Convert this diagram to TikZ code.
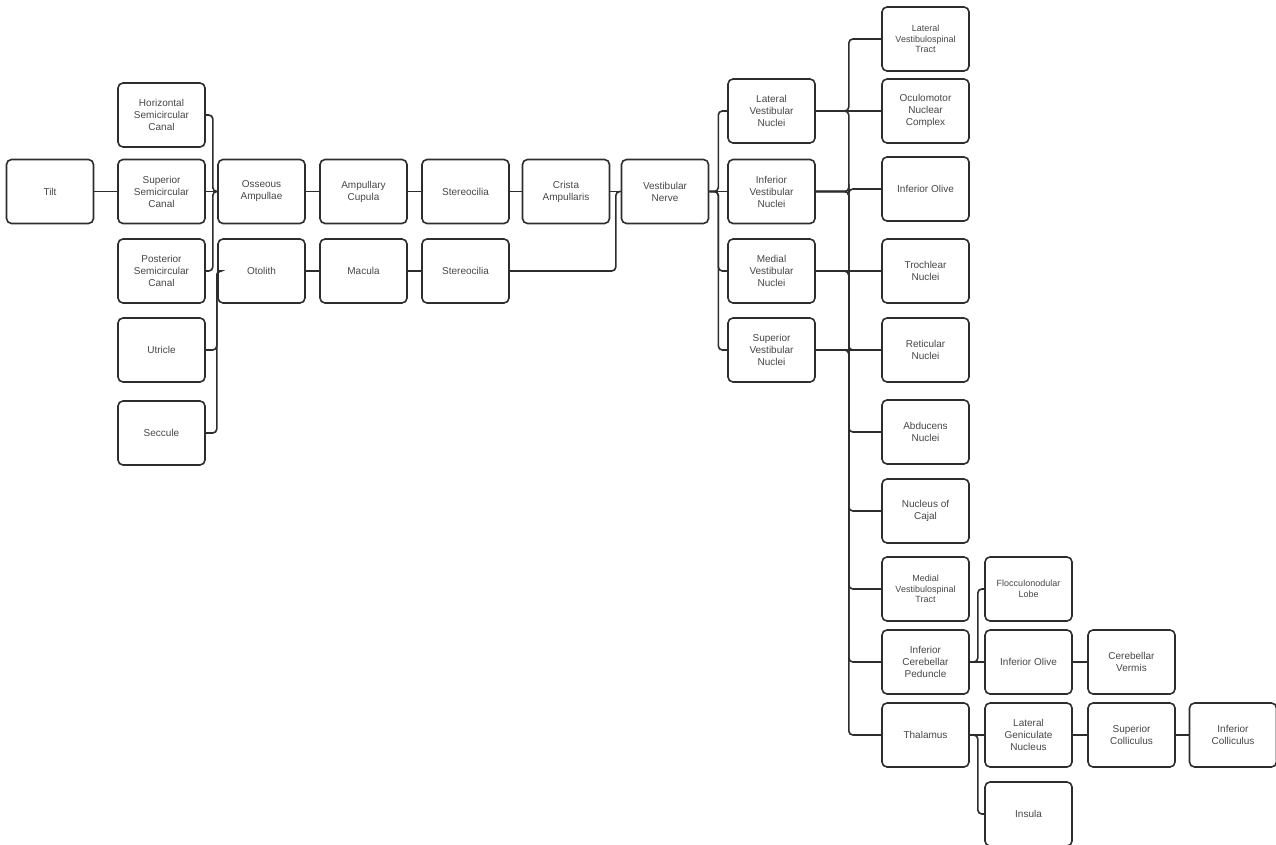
\documentclass[tikz,border=0pt]{standalone}
\usepackage{fontspec}
\setmainfont{Liberation Sans}
\usetikzlibrary{positioning}
\definecolor{boxline}{RGB}{45,45,45}
\definecolor{boxtext}{RGB}{70,70,70}

\begin{document}
\begin{tikzpicture}[
  x=1pt, y=-1pt,
  part/.style={rectangle, rounded corners=5pt, draw=boxline, line width=1.6pt,
               minimum width=87pt, minimum height=64pt, inner sep=1pt,
               font=\fontsize{10}{12}\selectfont, text=boxtext, align=center},
  small/.style={part, font=\fontsize{9}{10.5}\selectfont},
  link/.style={draw=boxline, line width=1.6pt, rounded corners=4pt}
]
  \useasboundingbox (0,0) rectangle (1276,845);
  \node[part] (tilt) at (50, 191.5) {Tilt};
  \node[part] (hsc) at (161.5, 115) {Horizontal\\Semicircular\\Canal};
  \node[part] (ssc) at (161.5, 191.5) {Superior\\Semicircular\\Canal};
  \node[part] (psc) at (161.5, 271) {Posterior\\Semicircular\\Canal};
  \node[part] (utr) at (161.5, 350) {Utricle};
  \node[part] (sec) at (161.5, 433) {Seccule};
  \node[part] (oss) at (261.5, 191.5) {Osseous\\Ampullae};
  \node[part] (oto) at (261.5, 271) {Otolith};
  \node[part] (amp) at (363.5, 191.5) {Ampullary\\Cupula};
  \node[part] (mac) at (363.5, 271) {Macula};
  \node[part] (stea) at (465.5, 191.5) {Stereocilia};
  \node[part] (steb) at (465.5, 271) {Stereocilia};
  \node[part] (cri) at (566, 191.5) {Crista\\Ampullaris};
  \node[part] (vn) at (665, 191.5) {Vestibular\\Nerve};
  \node[part] (lvn) at (771.5, 111) {Lateral\\Vestibular\\Nuclei};
  \node[part] (ivn) at (771.5, 191.5) {Inferior\\Vestibular\\Nuclei};
  \node[part] (mvn) at (771.5, 271) {Medial\\Vestibular\\Nuclei};
  \node[part] (svn) at (771.5, 350) {Superior\\Vestibular\\Nuclei};
  \node[small] (lvt) at (925.5, 39) {Lateral\\Vestibulospinal\\Tract};
  \node[part] (onc) at (925.5, 111) {Oculomotor\\Nuclear\\Complex};
  \node[part] (io) at (925.5, 189) {Inferior Olive};
  \node[part] (tro) at (925.5, 271) {Trochlear\\Nuclei};
  \node[part] (ret) at (925.5, 350) {Reticular\\Nuclei};
  \node[part] (abd) at (925.5, 432) {Abducens\\Nuclei};
  \node[part] (caj) at (925.5, 511) {Nucleus of\\Cajal};
  \node[small] (mvt) at (925.5, 589) {Medial\\Vestibulospinal\\Tract};
  \node[part] (icp) at (925.5, 662) {Inferior\\Cerebellar\\Peduncle};
  \node[part] (tha) at (925.5, 735) {Thalamus};
  \node[small] (flo) at (1028.5, 589) {Flocculonodular\\Lobe};
  \node[part] (iob) at (1028.5, 662) {Inferior Olive};
  \node[part] (lgn) at (1028.5, 735) {Lateral\\Geniculate\\Nucleus};
  \node[part] (ins) at (1028.5, 814) {Insula};
  \node[part] (cv) at (1131.5, 662) {Cerebellar\\Vermis};
  \node[part] (sc) at (1131.5, 735) {Superior\\Colliculus};
  \node[part] (ic) at (1233, 735) {Inferior\\Colliculus};
  \draw[link] (tilt) -- (ssc);
  \draw[link] (hsc.east) -- ++(7,0) |- (oss.west);
  \draw[link] (ssc) -- (oss);
  \draw[link] (psc.east) -- ++(7,0) |- (oss.west);
  \draw[link] (utr.east) -- ++(11,0) |- (oto.west);
  \draw[link] (sec.east) -- ++(11,0) |- (oto.west);
  \draw[link] (oss) -- (amp);
  \draw[link] (amp) -- (stea);
  \draw[link] (stea) -- (cri);
  \draw[link] (cri) -- (vn);
  \draw[link] (oto) -- (mac);
  \draw[link] (mac) -- (steb);
  \draw[link] (steb.east) -- ++(106,0) |- (vn.west);
  \draw[link] (vn.east) -- ++(9,0) |- (lvn.west);
  \draw[link] (vn) -- (ivn);
  \draw[link] (vn.east) -- ++(9,0) |- (mvn.west);
  \draw[link] (vn.east) -- ++(9,0) |- (svn.west);
  \draw[link] (lvn.east) -- ++(33,0) |- (lvt.west);
  \draw[link] (lvn) -- (onc);
  \draw[link] (lvn.east) -- ++(33,0) |- (ret.west);
  \draw[link] (ivn.east) -- ++(33,0) |- (io.west);
  \draw[link] (ivn.east) -- ++(33,0) |- (abd.west);
  \draw[link] (ivn.east) -- ++(33,0) |- (caj.west);
  \draw[link] (mvn) -- (tro);
  \draw[link] (mvn.east) -- ++(33,0) |- (mvt.west);
  \draw[link] (mvn.east) -- ++(33,0) |- (icp.west);
  \draw[link] (svn) -- (ret);
  \draw[link] (svn.east) -- ++(33,0) |- (tha.west);
  \draw[link] (icp.east) -- ++(8,0) |- (flo.west);
  \draw[link] (icp) -- (iob);
  \draw[link] (iob) -- (cv);
  \draw[link] (tha) -- (lgn);
  \draw[link] (tha.east) -- ++(8,0) |- (ins.west);
  \draw[link] (lgn) -- (sc);
  \draw[link] (sc) -- (ic);
\end{tikzpicture}
\end{document}
